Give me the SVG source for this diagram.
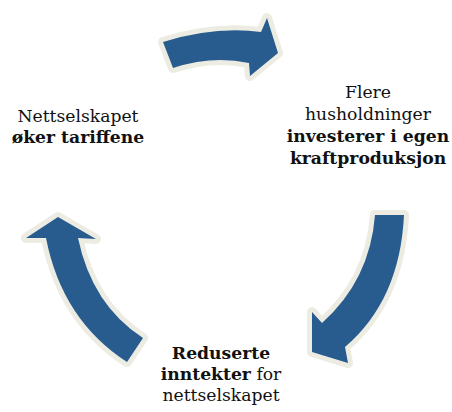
<svg xmlns="http://www.w3.org/2000/svg" width="452" height="412" viewBox="0 0 452 412">
<style>
.arrow{fill:#285C8F;stroke:#EDECE2;stroke-width:10;stroke-linejoin:round;paint-order:stroke}
.t{font-family:"DejaVu Serif","Liberation Serif",serif;font-size:17.2px;fill:#111;text-anchor:middle}
.b{font-weight:bold}
</style>
<rect width="452" height="412" fill="#fff"/>
<g id="connectors">
<path id="arrow-top" class="arrow" d="M163,42 Q215,26 261,32 L267,18 L278,53 L250,76 L249,63 Q212,55 173,68 Z"/>
<path id="arrow-right" class="arrow" d="M375,215 L404,215 Q400,300 345,347 L348,363 L312,352 L312,312 L322,323 Q370,280 375,215 Z"/>
<path id="arrow-left" class="arrow" d="M58,217 L96,239 L78,238 Q92,305 143,338 L127,362 Q62,320 46,238 L26,238 Z"/>
</g>
<g id="node-left">
<text class="t" x="78" y="122">Nettselskapet</text>
<text class="t b" x="78" y="143">øker tariffene</text>
</g>
<g id="node-right">
<text class="t" x="368" y="98">Flere</text>
<text class="t" x="368" y="120">husholdninger</text>
<text class="t b" x="368" y="142">investerer i egen</text>
<text class="t b" x="368" y="164">kraftproduksjon</text>
</g>
<g id="node-bottom">
<text class="t b" x="221" y="359">Reduserte</text>
<text class="t" x="221" y="380"><tspan class="b">inntekter</tspan> for</text>
<text class="t" x="221" y="401">nettselskapet</text>
</g>
</svg>
